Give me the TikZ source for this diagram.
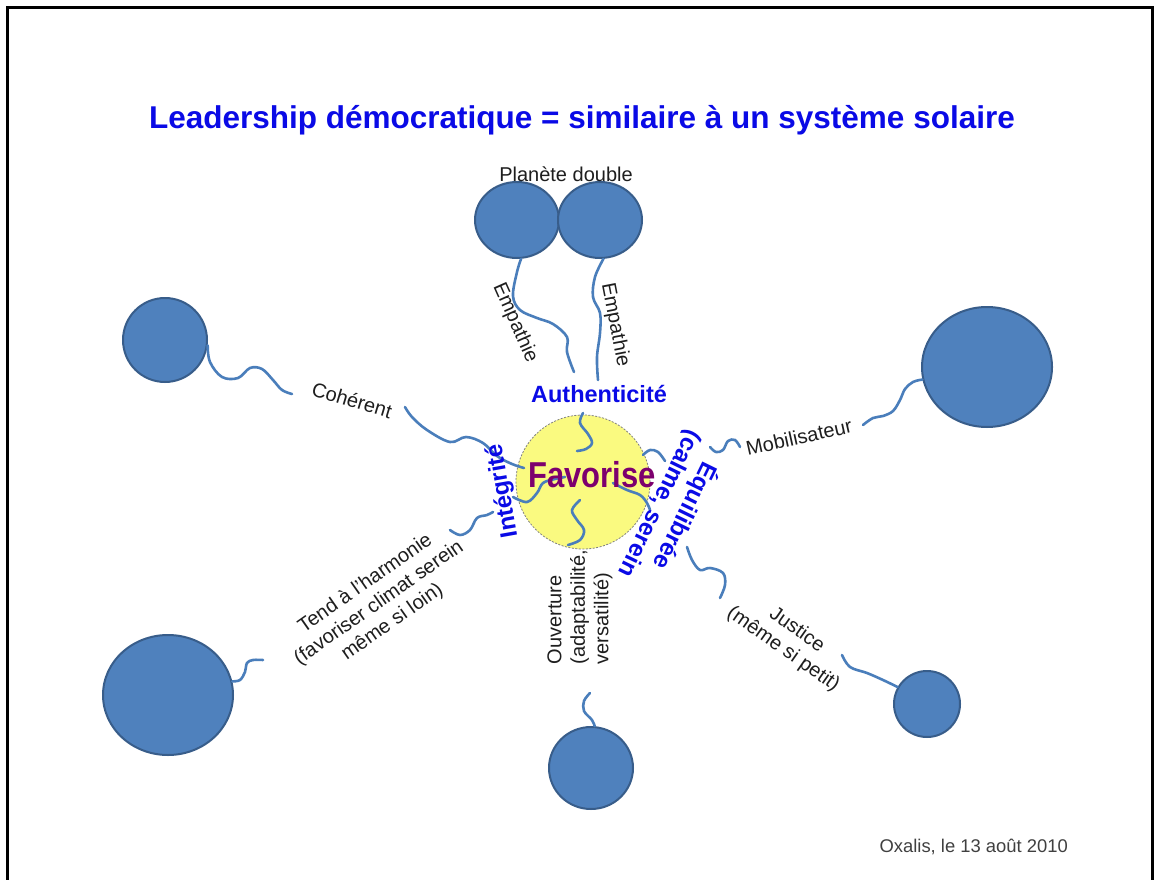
\documentclass[tikz,border=0pt]{standalone}
\usepackage{fontspec}
\setmainfont{Liberation Sans}
\newfontfamily\condensedfont{Liberation Sans}[FakeStretch=0.86]
\usetikzlibrary{shapes.geometric}
\definecolor{planetfill}{HTML}{4F81BD}
\definecolor{planetedge}{HTML}{385D8A}
\definecolor{linkcol}{HTML}{4A7EBB}
\definecolor{sunfill}{HTML}{FAFA80}
\definecolor{labblue}{RGB}{10,10,230}
\definecolor{favpurple}{RGB}{125,0,110}
\definecolor{inkgray}{RGB}{30,30,30}
\definecolor{footgray}{RGB}{64,64,64}
\begin{document}
\begin{tikzpicture}[x=1pt,y=-1pt,
 planet/.style={ellipse, fill=planetfill, draw=planetedge, line width=2pt, inner sep=0pt},
 conn/.style={draw=linkcol, line width=2.6pt, line cap=round, line join=round},
 blacklab/.style={text=inkgray, font=\fontsize{20}{23.5}\selectfont, inner sep=0pt, align=center},
 bluelab/.style={text=labblue, font=\bfseries\fontsize{24}{28}\selectfont, inner sep=0pt, align=center}]
\useasboundingbox (0,0) rectangle (1159,880);
\fill[white] (0,0) rectangle (1159,880);
\draw[line width=3pt] (7.5,880) -- (7.5,7.5) -- (1152,7.5) -- (1152,880);

% title
\node[anchor=base, text=labblue, font=\bfseries\fontsize{31.5}{36}\selectfont, inner sep=0pt] (title) at (582,129) {Leadership démocratique = similaire à un système solaire};

% sun
\node[circle, minimum size=134pt, fill=sunfill, draw=gray, line width=0.8pt, dash pattern=on 2pt off 1.5pt, inner sep=0pt] (sun) at (583,482) {};

% planets
\node[planet, minimum width=84pt, minimum height=76pt] (dpL) at (517,220) {};
\node[planet, minimum width=84pt, minimum height=76pt] (dpR) at (600,220) {};
\node[planet, minimum width=84pt, minimum height=84pt] (pL) at (165,340) {};
\node[planet, minimum width=130pt, minimum height=120pt] (pR) at (987,367) {};
\node[planet, minimum width=130pt, minimum height=120pt] (pBL) at (168,695) {};
\node[planet, minimum width=84pt, minimum height=82pt] (pB) at (591,768) {};
\node[planet, minimum width=66pt, minimum height=66pt] (pBR) at (927,704) {};

% connectors (wavy)
\draw[conn] plot[smooth, tension=0.6] coordinates {(dpL.-84) (517,272) (513,296) (520,310) (537,318) (553,324) (567,337) (567,352) (574,372)};
\draw[conn] plot[smooth, tension=0.6] coordinates {(dpR.-85) (595,277) (593,297) (600,313) (600,333) (597,357) (598,380)};
\draw[conn] plot[smooth, tension=0.6] coordinates {(583,413) (580,423) (588,434) (592,443) (586,449) (577,451)};
\draw[conn] plot[smooth, tension=0.6] coordinates {(pL.-7) (210,362) (222,377) (238,378) (250,368) (262,369) (273,380) (282,390) (292,394)};
\draw[conn] plot[smooth, tension=0.6] coordinates {(405,407) (412,417) (427,430) (450,442) (466,437) (483,443) (497,456) (512,464) (524,468)};
\draw[conn] plot[smooth, tension=0.6] coordinates {(pR.-169) (913,382) (905,389) (900,400) (893,411) (883,416) (873,418) (863,425)};
\draw[conn] plot[smooth, tension=0.6] coordinates {(740,447) (735,440) (728,441) (723,450) (716,452) (710,447)};
\draw[conn] plot[smooth, tension=0.6] coordinates {(643,455) (650,450) (658,452) (665,461)};
\draw[conn] plot[smooth, tension=0.6] coordinates {(pBR.150) (883,680) (867,673) (850,667) (842,655)};
\draw[conn] plot[smooth, tension=0.6] coordinates {(720,598) (725,585) (723,573) (710,568) (700,570) (692,560) (687,547)};
\draw[conn] plot[smooth, tension=0.6] coordinates {(613,483) (627,490) (640,495) (647,503) (650,510)};
\draw[conn] plot[smooth, tension=0.6] coordinates {(pB.85) (592,720) (584,711) (584,701) (590,693)};
\draw[conn] plot[smooth, tension=0.6] coordinates {(580,500) (572,510) (577,520) (584,530) (580,540) (568,545)};
\draw[conn] plot[smooth, tension=0.6] coordinates {(pBL.12) (240,680) (245,672) (247,663) (253,660) (263,660)};
\draw[conn] plot[smooth, tension=0.6] coordinates {(450,530) (460,535) (470,530) (477,518) (487,515) (493,512)};
\draw[conn] plot[smooth, tension=0.6] coordinates {(513,497) (527,502) (537,493) (543,483) (555,479) (565,477)};

% labels
\node[anchor=base, blacklab] (dbl) at (566,182) {Planète double};
\node[blacklab, rotate=-66] (empL) at (515,323) {Empathie};
\node[blacklab, rotate=-79] (empR) at (615,325) {Empathie};
\node[blacklab, rotate=-16.6] (coh) at (352,400) {Cohérent};
\node[blacklab, rotate=12.6] (mob) at (799,437) {Mobilisateur};
\node[blacklab, rotate=35] (tend) at (379,603) {Tend à l'harmonie\\(favoriser climat serein\\même si loin)};
\node[blacklab, rotate=-35] (just) at (790,640) {Justice\\(même si petit)};
\node[blacklab, rotate=90, align=left] (ouv) at (580,607) {Ouverture\\(adaptabilité,\\versatilité)};

\node[bluelab, font=\bfseries\fontsize{23.5}{28}\selectfont] (auth) at (599,394) {Authenticité};
\node[bluelab, rotate=100] (integ) at (503,491) {Intégrité};
\node[bluelab, rotate=-116] (equi) at (673,510) {Équilibrée\\(calme, serein};

\node[anchor=base, text=favpurple, font=\condensedfont\bfseries\fontsize{36}{40}\selectfont, inner sep=0pt] (fav) at (592,487) {Favorise};

\node[anchor=base east, text=footgray, font=\fontsize{18.4}{22}\selectfont, inner sep=0pt] (foot) at (1068,852) {Oxalis, le 13 août 2010};
\end{tikzpicture}
\end{document}
